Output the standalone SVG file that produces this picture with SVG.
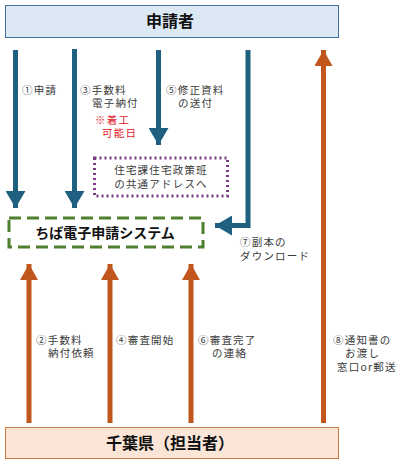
<svg xmlns="http://www.w3.org/2000/svg" width="401" height="466" viewBox="0 0 401 466">
<style>
text{font-family:"Noto Sans CJK JP","Noto Sans CJK SC",sans-serif;fill:#3a3a3a}
.lbl{font-size:10.5px;letter-spacing:1.2px}
.title{font-size:16px;font-weight:bold;fill:#111;text-anchor:middle}
.blue{stroke:#1f5f7f;stroke-width:5;fill:none}
.org{stroke:#c0561c;stroke-width:5;fill:none}
.red{fill:#e0202a}
</style>
<defs>
<marker id="ab" markerUnits="userSpaceOnUse" markerWidth="20" markerHeight="20" refX="17" refY="10" orient="auto"><path d="M0,0 L17,10 L0,20 Z" fill="#1f5f7f"/></marker>
<marker id="ao" markerUnits="userSpaceOnUse" markerWidth="18" markerHeight="18" refX="16" refY="9" orient="auto"><path d="M0,0 L16,9 L0,18 Z" fill="#c0561c"/></marker>
</defs>
<rect width="401" height="466" fill="#fff"/>
<g id="applicant">
<rect x="5.5" y="5.5" width="333" height="32" fill="#dce9f5" stroke="#41719c" stroke-width="1"/>
<text class="title" x="170" y="27">申請者</text>
</g>
<g id="chiba-system">
<rect x="9" y="218" width="194" height="29" fill="#fff" stroke="#4e7f2e" stroke-width="3" stroke-dasharray="12,6"/>
<text x="105" y="238" style="font-size:14px;font-weight:bold;fill:#111" text-anchor="middle">ちば電子申請システム</text>
</g>
<g id="address-note">
<rect x="94.5" y="158" width="133" height="38" fill="#fff" stroke="#7a3a84" stroke-width="3" stroke-dasharray="2,3"/>
<text class="lbl" x="161" y="174" text-anchor="middle">住宅課住宅政策班</text>
<text class="lbl" x="161" y="188" text-anchor="middle">の共通アドレスへ</text>
</g>
<g id="prefecture">
<rect x="5.5" y="427.5" width="333" height="31" fill="#fbe5d6" stroke="#c97a46" stroke-width="1"/>
<text class="title" x="170" y="449">千葉県（担当者）</text>
</g>
<g id="connectors">
<line class="blue" x1="15.5" y1="50" x2="15.5" y2="208" marker-end="url(#ab)"/>
<line class="blue" x1="74.5" y1="49" x2="74.5" y2="208" marker-end="url(#ab)"/>
<line class="blue" x1="158.5" y1="50" x2="158.5" y2="145" marker-end="url(#ab)"/>
<polyline class="blue" points="248,50 248,225.5 215,225.5" marker-end="url(#ab)"/>
<line class="org" x1="29" y1="423" x2="29" y2="264" marker-end="url(#ao)"/>
<line class="org" x1="110" y1="423" x2="110" y2="264" marker-end="url(#ao)"/>
<line class="org" x1="191" y1="423" x2="191" y2="264" marker-end="url(#ao)"/>
<line class="org" x1="323.5" y1="423" x2="323.5" y2="50" marker-end="url(#ao)"/>
</g>
<g id="labels">
<text class="lbl" x="22" y="94">①申請</text>
<text class="lbl" x="80" y="94">③手数料</text>
<text class="lbl" x="92" y="107">電子納付</text>
<text class="lbl red" x="95" y="124">※着工</text>
<text class="lbl red" x="102" y="137">可能日</text>
<text class="lbl" x="166" y="94">⑤修正資料</text>
<text class="lbl" x="178" y="107">の送付</text>
<text class="lbl" x="240" y="246">⑦副本の</text>
<text class="lbl" x="240" y="260">ダウンロード</text>
<text class="lbl" x="36" y="344">②手数料</text>
<text class="lbl" x="48" y="357">納付依頼</text>
<text class="lbl" x="116" y="344">④審査開始</text>
<text class="lbl" x="198" y="344">⑥審査完了</text>
<text class="lbl" x="212" y="357">の連絡</text>
<text class="lbl" x="333" y="344">⑧通知書の</text>
<text class="lbl" x="345" y="357">お渡し</text>
<text class="lbl" x="337" y="371">窓口or郵送</text>
</g>
</svg>
